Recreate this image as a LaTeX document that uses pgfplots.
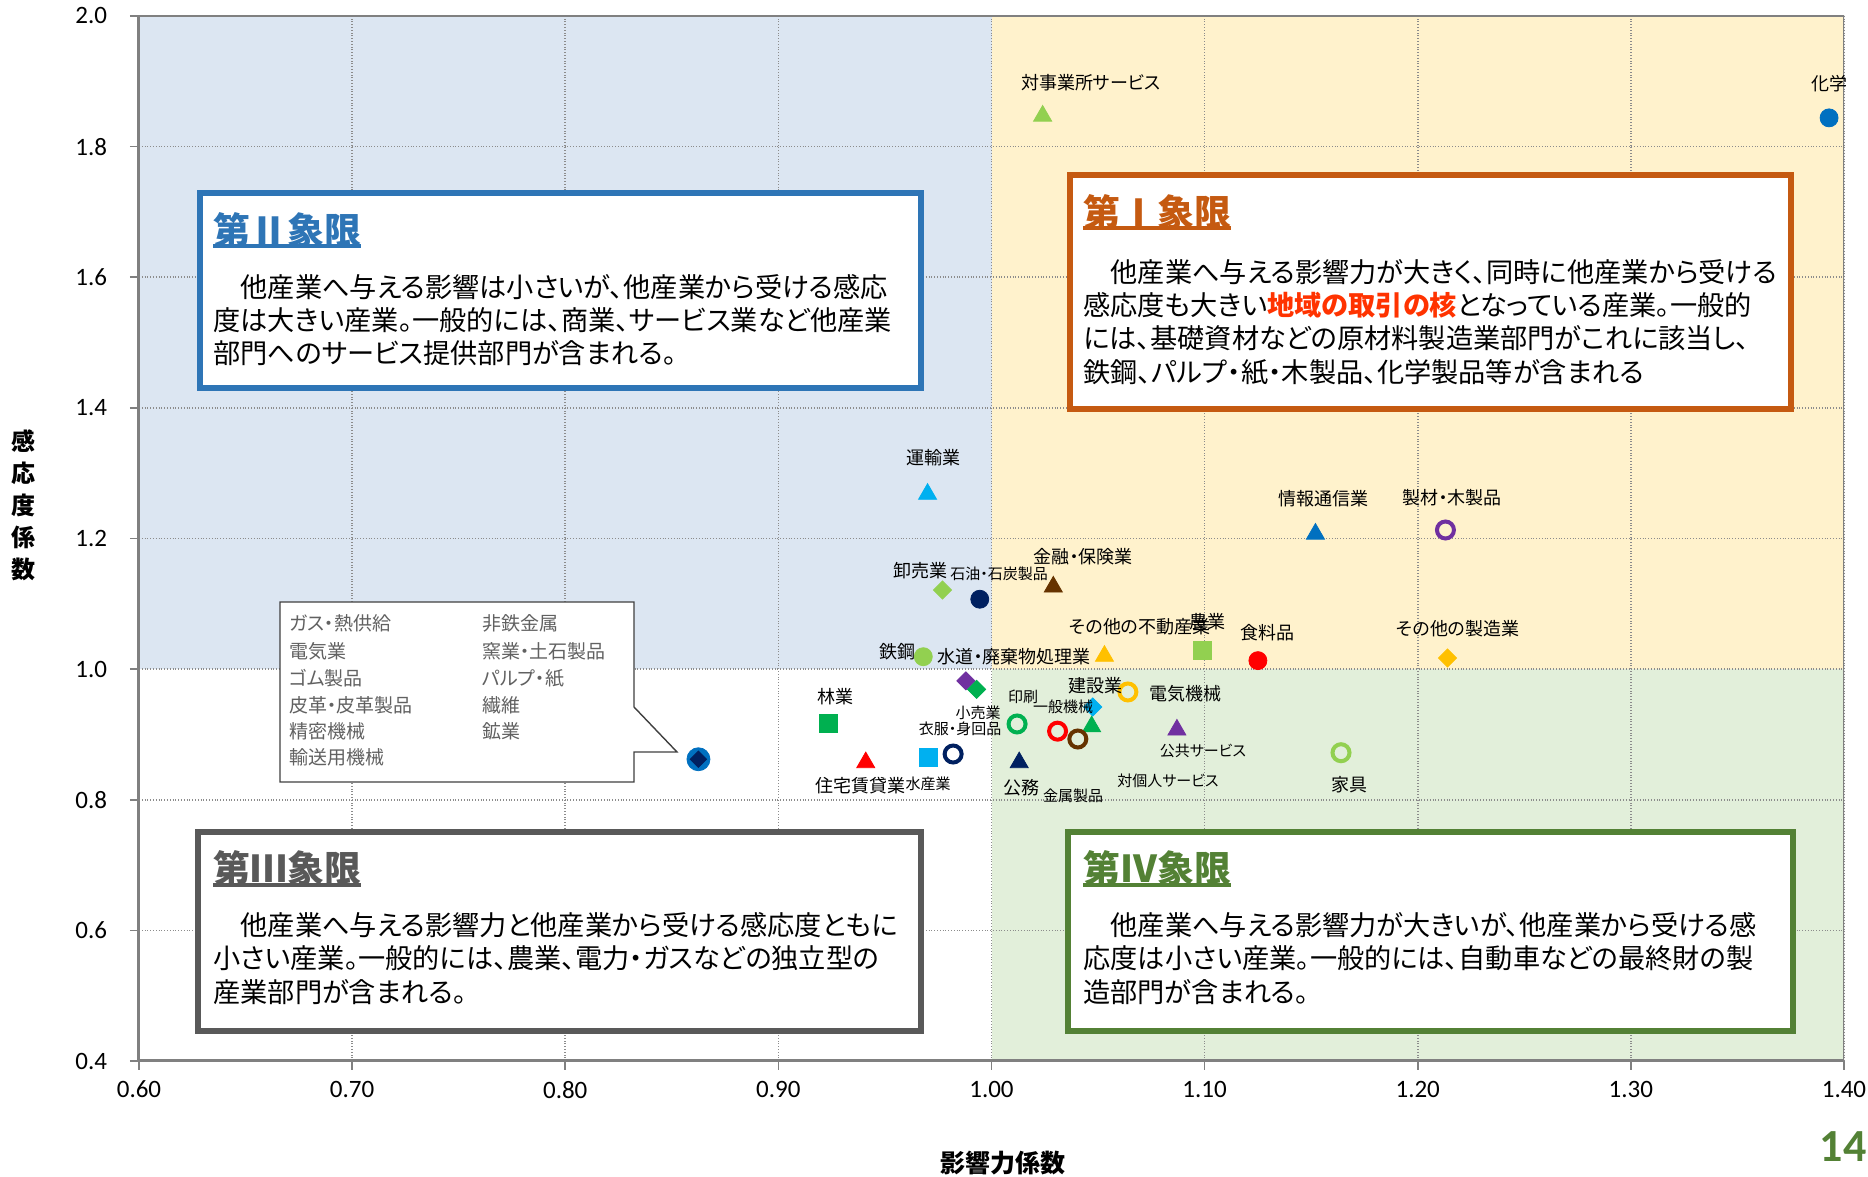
\documentclass[border=0pt]{standalone}
\usepackage{fontspec}
\setmainfont{Carlito}
\newfontfamily\jp[RawFeature=+palt]{Noto Sans CJK JP}
\usepackage{pgfplots}
\pgfplotsset{compat=1.18}
\definecolor{qblue}{HTML}{DCE6F2}
\definecolor{qyel}{HTML}{FFF2CC}
\definecolor{qgrn}{HTML}{E2EFDA}
\definecolor{cQa}{HTML}{C55A11}
\definecolor{cQb}{HTML}{2E75B6}
\definecolor{cQc}{HTML}{595959}
\definecolor{cQd}{HTML}{538135}
\definecolor{cBlue}{HTML}{0070C0}
\definecolor{cCyan}{HTML}{00B0F0}
\definecolor{cLime}{HTML}{92D050}
\definecolor{cGreen}{HTML}{00B050}
\definecolor{cNavy}{HTML}{002060}
\definecolor{cBrown}{HTML}{663300}
\definecolor{cGold}{HTML}{FFC000}
\definecolor{cPurple}{HTML}{7030A0}
\definecolor{cRed}{HTML}{FF0000}
\definecolor{cHi}{HTML}{FF3300}
\tikzset{
  pix/.style={x=0.5pt,y=-0.5pt,shift={(-69.5pt,530.5pt)}},
  lab/.style={font=\jp\fontsize{9}{10}\selectfont, inner sep=0pt},
  labs/.style={font=\jp\fontsize{7.5}{9}\selectfont, inner sep=0pt},
  body/.style={anchor=west, inner sep=0pt, font=\jp\fontsize{13.6}{15}\selectfont},
  ttl/.style={anchor=west, inner sep=0pt, font=\jp\bfseries\fontsize{18.5}{20}\selectfont},
  call/.style={anchor=west, inner sep=0pt, text=black!62, font=\jp\fontsize{9.5}{11}\selectfont},
}
\pgfplotsset{
  tri/.style={only marks, mark=triangle*, mark size=5.2pt, color=#1},
  dot/.style={only marks, mark=*, mark size=4.5pt, color=#1},
  ring/.style={only marks, mark=o, mark size=4.25pt, mark options={line width=2pt}, color=#1},
  sq/.style={only marks, mark=square*, mark size=4.5pt, color=#1},
  dia/.style={only marks, mark=square*, mark size=3.2pt, mark options={rotate=45}, color=#1},
}
\begin{document}
\begin{tikzpicture}
\begin{axis}[
  at={(0,0)}, anchor=south west,
  scale only axis, width=852.5pt, height=522.5pt,
  xmin=0.6, xmax=1.4, ymin=0.4, ymax=2.0,
  xtick={0.6,0.7,0.8,0.9,1.0,1.1,1.2,1.3,1.4},
  ytick={0.4,0.6,0.8,1.0,1.2,1.4,1.6,1.8,2.0},
  set layers,
  grid=major,
  major grid style={densely dotted, color=black!45, line width=0.8pt},
  axis x line*=bottom, axis y line*=left,
  axis line style={-, color=black!50, line width=1.5pt},
  tick style={color=black!50, line width=0.8pt},
  tick align=outside, major tick length=4.5pt,
  /pgf/number format/assume math mode=true,
  xticklabel style={font=\fontsize{12.5}{14}\selectfont, inner sep=0pt, yshift=-5.3pt,
    /pgf/number format/.cd, fixed, fixed zerofill, precision=2},
  yticklabel style={font=\fontsize{12.5}{14}\selectfont, inner sep=0pt, xshift=-11.3pt,
    /pgf/number format/.cd, fixed, fixed zerofill, precision=1},
]
\begin{pgfonlayer}{axis background}
\fill[qblue] (axis cs:0.6,1.0) rectangle (axis cs:1.0,2.0);
\fill[qyel] (axis cs:1.0,1.0) rectangle (axis cs:1.4,2.0);
\fill[qgrn] (axis cs:1.0,0.4) rectangle (axis cs:1.4,1.0);
\end{pgfonlayer}
\draw[black!50, line width=0.6pt] (rel axis cs:0,1) -- (rel axis cs:1,1) -- (rel axis cs:1,0);
% 化学
\addplot[dot=cBlue] coordinates {(1.393,1.844)};
% 対事業所サービス
\addplot[tri=cLime] coordinates {(1.024,1.847)};
% 運輸業
\addplot[tri=cCyan] coordinates {(0.970,1.268)};
% 情報通信業
\addplot[tri=cBlue] coordinates {(1.152,1.207)};
% 製材・木製品
\addplot[ring=cPurple] coordinates {(1.213,1.213)};
% 卸売業
\addplot[dia=cLime] coordinates {(0.977,1.121)};
% 石油・石炭製品
\addplot[dot=cNavy] coordinates {(0.9945,1.107)};
% 金融・保険業
\addplot[tri=cBrown] coordinates {(1.029,1.126)};
% その他の不動産業
\addplot[tri=cGold] coordinates {(1.053,1.020)};
% 農業
\addplot[sq=cLime] coordinates {(1.099,1.029)};
% 食料品
\addplot[dot=cRed] coordinates {(1.125,1.013)};
% その他の製造業
\addplot[dia=cGold] coordinates {(1.214,1.017)};
% 鉄鋼
\addplot[dot=cLime] coordinates {(0.968,1.019)};
% 衣服・身回品
\addplot[dia=cPurple] coordinates {(0.988,0.982)};
% 小売業
\addplot[dia=cGreen] coordinates {(0.993,0.969)};
% 印刷
\addplot[ring=cGreen] coordinates {(1.012,0.916)};
% 一般機械
\addplot[dia=cCyan] coordinates {(1.0475,0.942)};
% 対個人サービス
\addplot[tri=cGreen] coordinates {(1.047,0.912)};
% 電気機械 ring red
\addplot[ring=cRed] coordinates {(1.031,0.905)};
% 金属製品
\addplot[ring=cBrown] coordinates {(1.0405,0.893)};
% 建設業
\addplot[ring=cGold] coordinates {(1.064,0.965)};
% 公共サービス
\addplot[tri=cPurple] coordinates {(1.087,0.907)};
% 公務
\addplot[tri=cNavy] coordinates {(1.013,0.857)};
% navy ring
\addplot[ring=cNavy] coordinates {(0.982,0.870)};
% 水産業
\addplot[sq=cCyan] coordinates {(0.9706,0.8645)};
% 住宅賃貸業
\addplot[tri=cRed] coordinates {(0.941,0.857)};
% 林業
\addplot[sq=cGreen] coordinates {(0.9235,0.917)};
% 家具
\addplot[ring=cLime] coordinates {(1.164,0.872)};
% group (callout)
\addplot[only marks, mark=*, mark size=5.75pt, color=cBlue] coordinates {(0.8625,0.862)};
\addplot[only marks, mark=square*, mark size=2.9pt, mark options={rotate=45}, color=cNavy] coordinates {(0.8625,0.862)};
\end{axis}
\begin{scope}[pix]
\path (0,0) rectangle (1868,1177);
% data labels
\node[lab] at (1829,84) {化学};
\node[lab] at (1091,83) {対事業所サービス};
\node[lab] at (933,458) {運輸業};
\node[lab] at (1323,499) {情報通信業};
\node[lab] at (1452,498) {製材・木製品};
\node[lab] at (1083,557) {金融・保険業};
\node[lab] at (920,571) {卸売業};
\node[labs] at (999,574) {石油・石炭製品};
\node[lab] at (1140,627) {その他の不動産業};
\node[lab] at (1207,622) {農業};
\node[lab] at (1267,633) {食料品};
\node[lab] at (1458,629) {その他の製造業};
\node[lab] at (897,652) {鉄鋼};
\node[lab] at (1014,657) {水道・廃棄物処理業};
\node[lab] at (1095,686) {建設業};
\node[lab] at (1185,694) {電気機械};
\node[labs] at (1023,697) {印刷};
\node[labs] at (1063,707) {一般機械};
\node[labs] at (978,713) {小売業};
\node[labs] at (960,729) {衣服・身回品};
\node[labs] at (1203,751) {公共サービス};
\node[lab] at (1021,788) {公務};
\node[labs] at (1073,796) {金属製品};
\node[labs] at (1168,781) {対個人サービス};
\node[labs] at (928,784) {水産業};
\node[lab] at (860,786) {住宅賃貸業};
\node[lab] at (835,697) {林業};
\node[lab] at (1349,785) {家具};
% callout
\draw[fill=white, draw=black!75, line width=0.7pt] (280,602) -- (634,602) -- (634,707) -- (677,752) -- (634,752) -- (634,782) -- (280,782) -- cycle;
\node[call] at (289,623) {ガス・熱供給};
\node[call] at (289,651) {電気業};
\node[call] at (289,678) {ゴム製品};
\node[call] at (289,705) {皮革・皮革製品};
\node[call] at (289,731) {精密機械};
\node[call] at (289,757) {輸送用機械};
\node[call] at (482,623) {非鉄金属};
\node[call] at (482,651) {窯業・土石製品};
\node[call] at (482,678) {パルプ・紙};
\node[call] at (482,705) {繊維};
\node[call] at (482,731) {鉱業};
% Quadrant II
\draw[draw=cQb, fill=white, line width=3pt] (200,193) rectangle (921,388);
\node[ttl, text=cQb] at (213,230) {第Ⅱ象限};
\draw[cQb, line width=1.6pt] (213,246) -- (361,246);
\node[body] at (213,287) {　他産業へ与える影響は小さいが、他産業から受ける感応};
\node[body] at (213,320) {度は大きい産業。一般的には、商業、サービス業など他産業};
\node[body] at (213,353) {部門へのサービス提供部門が含まれる。};
% Quadrant I
\draw[draw=cQa, fill=white, line width=3pt] (1070,175) rectangle (1791,409);
\node[ttl, text=cQa] at (1083,212) {第Ⅰ象限};
\draw[cQa, line width=1.6pt] (1083,228) -- (1231,228);
\node[body] at (1083,272) {　他産業へ与える影響力が大きく、同時に他産業から受ける};
\node[body] at (1083,305) {感応度も大きい{\bfseries\color{cHi}地域の取引の核}となっている産業。一般的};
\node[body] at (1083,338) {には、基礎資材などの原材料製造業部門がこれに該当し、};
\node[body] at (1083,372) {鉄鋼、パルプ・紙・木製品、化学製品等が含まれる};
% Quadrant III
\draw[draw=cQc, fill=white, line width=3pt] (198,832) rectangle (921,1031);
\node[ttl, text=cQc] at (213,868) {第Ⅲ象限};
\draw[cQc, line width=1.6pt] (213,885) -- (361,885);
\node[body] at (213,925) {　他産業へ与える影響力と他産業から受ける感応度ともに};
\node[body] at (213,958) {小さい産業。一般的には、農業、電力・ガスなどの独立型の};
\node[body] at (213,992) {産業部門が含まれる。};
% Quadrant IV
\draw[draw=cQd, fill=white, line width=3pt] (1068,832) rectangle (1793,1031);
\node[ttl, text=cQd] at (1083,868) {第Ⅳ象限};
\draw[cQd, line width=1.6pt] (1083,885) -- (1231,885);
\node[body] at (1083,925) {　他産業へ与える影響力が大きいが、他産業から受ける感};
\node[body] at (1083,958) {応度は小さい産業。一般的には、自動車などの最終財の製};
\node[body] at (1083,992) {造部門が含まれる。};
% axis titles
\node[align=center, inner sep=0pt, font=\jp\bfseries\fontsize{12}{16}\selectfont] at (24,505) {感\\応\\度\\係\\数};
\node[inner sep=0pt, font=\jp\bfseries\fontsize{12.5}{14}\selectfont] at (1003,1163) {影響力係数};
\node[anchor=east, inner sep=0pt, text=cQd, font=\bfseries\fontsize{23}{24}\selectfont] at (1867,1147) {14};
\end{scope}
\end{tikzpicture}
\end{document}
